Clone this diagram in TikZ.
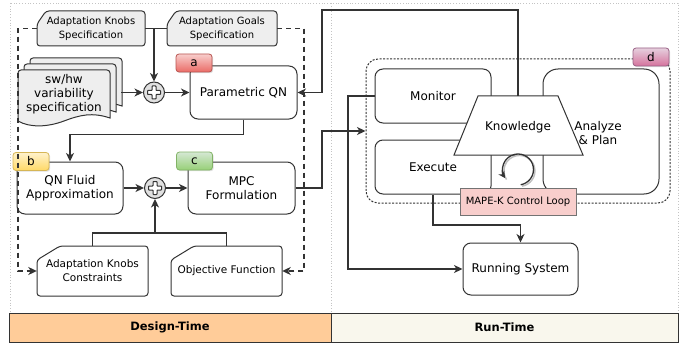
\documentclass[tikz,border=0pt]{standalone}
\usepackage{fontspec}
\setmainfont{DejaVu Sans}
\usetikzlibrary{arrows.meta,shadows,calc}

\definecolor{ink}{HTML}{333333}
\definecolor{specfill}{HTML}{EEEEEE}
\definecolor{framegray}{HTML}{C4C4C4}
\definecolor{designfill}{HTML}{FFCC99}
\definecolor{runfill}{HTML}{F9F7ED}
\definecolor{loopfill}{HTML}{F8CECC}
\definecolor{redtop}{HTML}{F8CECC}
\definecolor{redbot}{HTML}{EA6B66}
\definecolor{redline}{HTML}{B85450}
\definecolor{yeltop}{HTML}{FFF2CC}
\definecolor{yelbot}{HTML}{FFD966}
\definecolor{yelline}{HTML}{D6B656}
\definecolor{grntop}{HTML}{D5E8D4}
\definecolor{grnbot}{HTML}{97D077}
\definecolor{grnline}{HTML}{82B366}
\definecolor{pnktop}{HTML}{E6D0DE}
\definecolor{pnkbot}{HTML}{D5739D}
\definecolor{pnkline}{HTML}{996185}

% card outline: left, top, right, bottom, cut x, cut y, fill
\newcommand\cardoutline[7]{%
  \draw[draw=ink,line width=1pt,fill=#7,rounded corners=3pt]
    (#1,#2+#6) -- (#1+#5,#2) -- (#3,#2) -- (#3,#4) -- (#1,#4) -- cycle;}

% stacked document page, shifted by (dx,dy)
\newcommand\docpage[2]{%
  \draw[draw=ink,line width=1pt,fill=specfill]
    (18+#1,121+#2) -- (18+#1,73+#2) arc[start angle=180,end angle=270,radius=3]
    -- (107+#1,70+#2) arc[start angle=270,end angle=360,radius=3]
    -- (110+#1,118+#2)
    .. controls (92+#1,112+#2) and (80+#1,115+#2) .. (64+#1,121+#2)
    .. controls (48+#1,127+#2) and (30+#1,128+#2) .. (18+#1,121+#2) -- cycle;}

% outlined plus sign inside a circle
\newcommand\plussign[1]{%
  \begin{scope}[shift={(#1)}]
    \draw[draw=ink,line width=1pt,fill=white,rounded corners=0.6pt]
      (-2,-6.5) -- (2,-6.5) -- (2,-2) -- (6.5,-2) -- (6.5,2) -- (2,2) -- (2,6.5)
      -- (-2,6.5) -- (-2,2) -- (-6.5,2) -- (-6.5,-2) -- (-2,-2) -- cycle;
  \end{scope}}

\tikzset{
  mainfont/.style={font=\fontsize{12}{14}\selectfont},
  box/.style={draw=ink, line width=1pt, fill=white, rounded corners=8pt,
    inner sep=0pt, align=center, mainfont},
  cardtext/.style={inner sep=0pt, align=center, font=\fontsize{10}{13.5}\selectfont},
  conn/.style={draw=ink, line width=1.4pt},
  arr/.style={conn, -{Stealth[length=8.5pt,width=8pt,inset=2.5pt]}},
  dasharr/.style={arr, dash pattern=on 5pt off 4pt},
  plusnode/.style={circle, draw=ink, line width=1pt, fill=black!12,
    minimum size=21pt, inner sep=0pt},
  tagbox/.style={rounded corners=3pt, line width=0.8pt, inner sep=0pt,
    minimum width=36pt, minimum height=18pt, mainfont,
    drop shadow={shadow xshift=1.2pt, shadow yshift=-1.2pt, opacity=0.25}},
  band/.style={draw=ink, line width=1pt, inner sep=0pt,
    font=\bfseries\fontsize{11.5}{13}\selectfont},
}

\begin{document}
\begin{tikzpicture}[x=1pt,y=-1pt]
\useasboundingbox (0,0) rectangle (694,345);

% light dotted frames of the two phases
\draw[framegray, dotted, line width=0.8pt] (10,3) rectangle (678,313);
\draw[framegray, dotted, line width=0.8pt] (331,3) -- (331,313);

% ---------------- design time ----------------
\cardoutline{37}{11}{145}{46}{9}{13}{specfill}
\node[cardtext, minimum width=108pt, minimum height=35pt] (knobspec) at (91,28.5)
  {Adaptation Knobs\\Specification};
\cardoutline{167}{11}{277}{46}{9}{13}{specfill}
\node[cardtext, minimum width=110pt, minimum height=35pt] (goalspec) at (222,28.5)
  {Adaptation Goals\\Specification};

\docpage{12}{-12}
\docpage{6}{-6}
\docpage{0}{0}
\node[inner sep=0pt, minimum width=103pt, minimum height=71pt] (swhw) at (69.5,92.5) {};
\node[mainfont, align=center, inner sep=0pt] (swhwtext) at (64,94.5)
  {sw/hw\\variability\\specification};

\node[plusnode] (plusA) at (154,92.5) {};
\plussign{plusA}

\node[box, minimum width=107pt, minimum height=53pt] (pqn) at (243.5,92.5) {Parametric QN};
\node[tagbox, draw=redline, top color=redtop, bottom color=redbot] (taga) at (194,63) {a};

\node[box, minimum width=106pt, minimum height=52pt] (qnf) at (70,188) {QN Fluid\\Approximation};
\node[tagbox, draw=yelline, top color=yeltop, bottom color=yelbot] (tagb) at (31,161.5) {b};

\node[plusnode] (plusB) at (155,188) {};
\plussign{plusB}

\node[box, minimum width=107pt, minimum height=52pt] (mpc) at (241.5,188) {MPC\\Formulation};
\node[tagbox, draw=grnline, top color=grntop, bottom color=grnbot] (tagc) at (194.5,161) {c};

\cardoutline{37}{246}{148}{296}{23}{14}{white}
\node[cardtext, font=\fontsize{10.5}{14}\selectfont, minimum width=111pt, minimum height=50pt] (constr) at (92.5,271)
  {Adaptation Knobs\\Constraints};
\cardoutline{171}{246}{282}{296}{23}{14}{white}
\node[cardtext, font=\fontsize{10.5}{14}\selectfont, minimum width=111pt, minimum height=50pt] (objf) at (226.5,271)
  {Objective Function};

% design-time connectors
\draw[conn] (knobspec.east) -- (goalspec.west);
\coordinate (specjoin) at (154,28.5);
\draw[arr] (specjoin) -- (plusA.north);
\draw[arr] (swhw.east) -- (plusA.west);
\draw[arr] (plusA.east) -- (pqn.west);
\draw[arr] (pqn.south) -- ++(0,15) -| (qnf.north);
\draw[arr] (qnf.east) -- (plusB.west);
\draw[arr] (plusB.east) -- (mpc.west);
\draw[conn] (constr.north) -- ++(0,-13) -| (objf.north);
\coordinate (cfjoin) at (155,233);
\draw[arr] (cfjoin) -- (plusB.south);
\draw[dasharr] (knobspec.west) -- (18,28.5) |- (constr.west);
\draw[dasharr] (goalspec.east) -- (304,28.5) |- (objf.east);

% ---------------- run time ----------------
\node[draw=ink, dash pattern=on 2pt off 1.5pt, line width=1pt, rounded corners=12pt, inner sep=0pt,
  minimum width=304pt, minimum height=144pt] (mapek) at (518,131) {};
\node[tagbox, draw=pnkline, top color=pnktop, bottom color=pnkbot] (tagd) at (651,57) {d};

\node[box, minimum width=116pt, minimum height=125pt, rounded corners=15pt] (ana) at (601,131.5) {};
\node[mainfont, align=center, inner sep=0pt] (anatext) at (598,133) {Analyze\\\&~Plan};
\node[box, minimum width=116pt, minimum height=54pt] (mon) at (433,96) {Monitor};
\node[box, minimum width=116pt, minimum height=54pt] (exe) at (433,167) {Execute};

% knowledge trapezoid
\draw[draw=ink, line width=1pt, fill=white]
  (478,96) -- (558,96) -- (583,155) -- (454,155) -- cycle;
\node[mainfont, inner sep=0pt] (know) at (518,127) {Knowledge};
\coordinate (ktop) at (518,96);

% control loop symbol
\coordinate (loopc) at (518,169.5);
\draw[black!25, line width=1.5pt] ($(loopc)+(1.4,1.4)+(80:15.5)$) arc[start angle=80, end angle=-214, radius=15.5];
\draw[ink, line width=1.3pt, -{Stealth[length=7pt,width=7pt]}]
  ($(loopc)+(80:15.5)$) arc[start angle=80, end angle=-214, radius=15.5];

\node[draw=black!55, fill=loopfill, line width=0.8pt, inner sep=0pt,
  minimum width=116pt, minimum height=27pt, font=\fontsize{10}{12}\selectfont,
  drop shadow={shadow xshift=1.2pt, shadow yshift=-1.2pt, opacity=0.25}]
  (looplabel) at (518,201.5) {MAPE-K Control Loop};

\node[box, minimum width=115pt, minimum height=52pt] (run) at (520.5,269) {Running System};

% run-time connectors
\draw[arr] (mpc.east) -- (322,188) |- (mapek.west);
\draw[arr] (ktop) -- (518,10) -- (322,10) -- (322,92.5) -- (pqn.east);
\draw[arr] (mon.west) -- (348,96) |- (run.west);
\draw[arr] (exe.south) -- (433,225) -| (run.north);

% phase bands
\node[band, fill=designfill, minimum width=322pt, minimum height=29pt] (design) at (170,327.5) {Design-Time};
\node[band, fill=runfill, minimum width=347pt, minimum height=29pt] (runtime) at (504.5,327.5) {Run-Time};
\end{tikzpicture}
\end{document}
